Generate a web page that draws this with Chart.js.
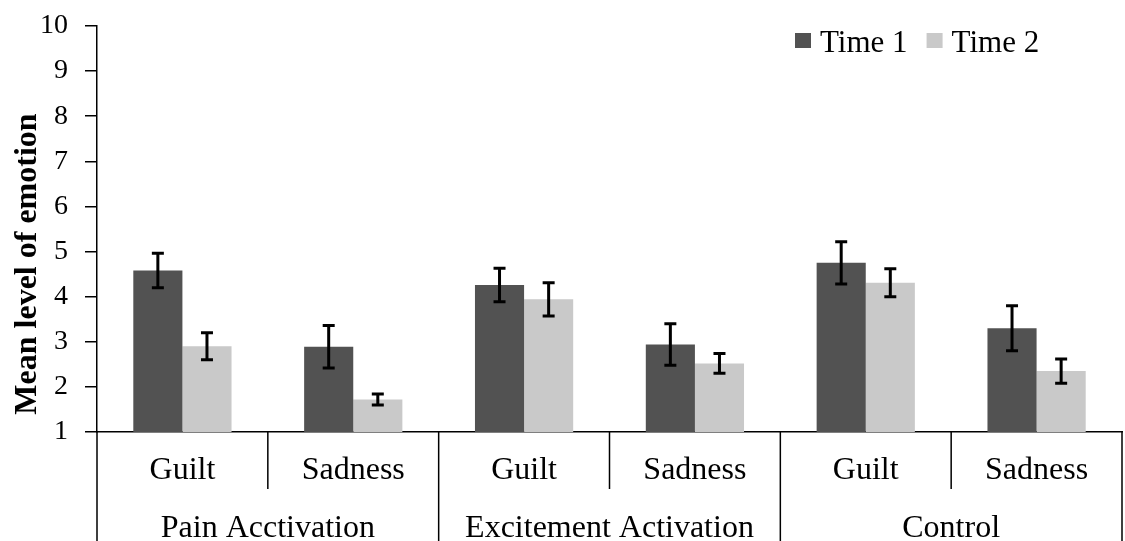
<!DOCTYPE html>
<html>
<head>
<meta charset="utf-8">
<script src="https://cdn.jsdelivr.net/npm/chart.js@4/dist/chart.umd.min.js"></script>
<style>
  html, body { margin: 0; padding: 0; background: #ffffff; }
  #wrap { width: 1125px; height: 541px; }
</style>
</head>
<body>
<div id="wrap"><canvas id="chart" width="1125" height="541"></canvas></div>
<script>
// Conditions (outer level) and emotions (inner level) of the category axis
const conditions = ['Pain Acctivation', 'Excitement Activation', 'Control'];
const emotions = ['Guilt', 'Sadness', 'Guilt', 'Sadness', 'Guilt', 'Sadness'];
const seriesNames = ['Time 1', 'Time 2'];

// Mean level of emotion per cell, with standard error
const time1 = [4.58, 2.89, 4.26, 2.94, 4.75, 3.30];
const time2 = [2.90, 1.72, 3.94, 2.52, 4.31, 2.35];
const time1Err = [0.38, 0.47, 0.37, 0.46, 0.47, 0.50];
const time2Err = [0.30, 0.12, 0.37, 0.22, 0.31, 0.27];

const yTicks = [1, 2, 3, 4, 5, 6, 7, 8, 9, 10];
const yTitle = 'Mean level of emotion';

const DARK = '#525252';
const LIGHT = '#c9c9c9';
const SERIF = '"Liberation Serif", "Times New Roman", serif';

const errors = [time1Err, time2Err];

// Error bars with caps, drawn over each bar
const errorBars = {
  id: 'errorBars',
  afterDatasetsDraw(chart) {
    const { ctx } = chart;
    const y = chart.scales.y;
    ctx.save();
    ctx.strokeStyle = '#000';
    ctx.lineWidth = 3;
    chart.data.datasets.forEach((ds, di) => {
      const meta = chart.getDatasetMeta(di);
      meta.data.forEach((bar, i) => {
        const v = ds.data[i], e = errors[di][i];
        const top = y.getPixelForValue(v + e);
        const bot = y.getPixelForValue(v - e);
        const cap = 6;
        ctx.beginPath();
        ctx.moveTo(bar.x, top); ctx.lineTo(bar.x, bot);
        ctx.moveTo(bar.x - cap, top); ctx.lineTo(bar.x + cap, top);
        ctx.moveTo(bar.x - cap, bot); ctx.lineTo(bar.x + cap, bot);
        ctx.stroke();
      });
    });
    ctx.restore();
  }
};

// Two-level category axis, axis title and legend
const decorations = {
  id: 'decorations',
  afterDraw(chart) {
    const { ctx, chartArea } = chart;
    const x = chart.scales.x;
    const n = emotions.length;
    const step = x.getPixelForValue(1) - x.getPixelForValue(0);
    const start = x.getPixelForValue(0) - step / 2;
    const base = chartArea.bottom;
    const H = chart.height;

    ctx.save();
    ctx.strokeStyle = '#000';
    ctx.lineWidth = 1.5;
    // left axis line runs down through the label rows
    ctx.beginPath();
    ctx.moveTo(chartArea.left, base); ctx.lineTo(chartArea.left, H);
    for (let i = 1; i <= n; i++) {
      const px = start + i * step;
      const full = (i % 2 === 0);
      ctx.moveTo(px, base);
      ctx.lineTo(px, full ? H : base + 57);
    }
    ctx.stroke();

    ctx.fillStyle = '#000';
    ctx.textAlign = 'center';
    ctx.textBaseline = 'alphabetic';
    ctx.font = '32px ' + SERIF;
    emotions.forEach((lab, i) => {
      ctx.fillText(lab, x.getPixelForValue(i), base + 47);
    });
    conditions.forEach((lab, g) => {
      const cx = start + (2 * g + 1) * step;
      ctx.fillText(lab, cx, base + 105);
    });

    // vertical axis title, centred on the full height
    ctx.save();
    ctx.translate(28, 264);
    ctx.rotate(-Math.PI / 2);
    ctx.font = 'bold 32px ' + SERIF;
    ctx.textBaseline = 'middle';
    ctx.fillText(yTitle, 0, 0);
    ctx.restore();

    // legend
    ctx.font = '31px ' + SERIF;
    ctx.textAlign = 'left';
    let lx = 795;
    chart.data.datasets.forEach((ds) => {
      ctx.fillStyle = ds.backgroundColor;
      ctx.fillRect(lx, 33, 16, 15);
      ctx.fillStyle = '#000';
      ctx.fillText(ds.label, lx + 25, 52);
      lx += 25 + ctx.measureText(ds.label).width + 19;
    });
    ctx.restore();
  }
};

new Chart(document.getElementById('chart'), {
  type: 'bar',
  data: {
    labels: emotions,
    datasets: [
      { label: seriesNames[0], data: time1, backgroundColor: DARK },
      { label: seriesNames[1], data: time2, backgroundColor: LIGHT }
    ]
  },
  options: {
    responsive: false,
    devicePixelRatio: 1,
    animation: false,
    layout: { padding: { top: 26, right: 3, bottom: 101, left: 0 } },
    datasets: { bar: { categoryPercentage: 0.575, barPercentage: 1.0 } },
    plugins: {
      legend: { display: false },
      tooltip: { enabled: false }
    },
    scales: {
      x: {
        ticks: { display: false },
        grid: { display: false },
        border: { display: true, color: '#000', width: 1.5 }
      },
      y: {
        min: yTicks[0],
        max: yTicks[yTicks.length - 1],
        afterBuildTicks(scale) { scale.ticks = yTicks.map(v => ({ value: v })); },
        afterFit(scale) {
          scale.width = 97;
          scale.paddingTop = 0;
          scale.paddingBottom = 0;
        },
        ticks: {
          color: '#000',
          padding: 17,
          font: { family: SERIF, size: 28 }
        },
        grid: {
          drawOnChartArea: false,
          drawTicks: true,
          tickLength: 12,
          color: '#000',
          lineWidth: 1.5
        },
        border: { display: true, color: '#000', width: 1.5 }
      }
    }
  },
  plugins: [errorBars, decorations]
});
</script>
</body>
</html>
